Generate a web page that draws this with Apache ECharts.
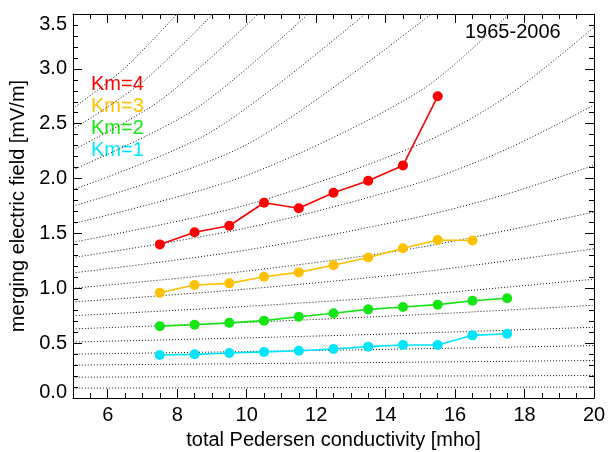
<!DOCTYPE html>
<html>
<head>
<meta charset="utf-8">
<script src="https://cdn.jsdelivr.net/npm/echarts@6/dist/echarts.min.js"></script>
<style>
  html, body { margin: 0; padding: 0; background: #fff; }
  #chart { width: 608px; height: 452px; }
</style>
</head>
<body>
<div id="chart"></div>
<script>
// conductivity bins
var sigma = [7.5, 8.5, 9.5, 10.5, 11.5, 12.5, 13.5, 14.5, 15.5, 16.5, 17.5];

// merging electric field per Km level
var km4 = [1.40, 1.51, 1.57, 1.78, 1.73, 1.87, 1.98, 2.12, 2.75];
var km3 = [0.96, 1.03, 1.045, 1.105, 1.145, 1.21, 1.28, 1.365, 1.44, 1.435];
var km2 = [0.655, 0.668, 0.685, 0.705, 0.74, 0.772, 0.808, 0.83, 0.851, 0.887, 0.909];
var km1 = [0.392, 0.398, 0.41, 0.42, 0.43, 0.447, 0.468, 0.483, 0.483, 0.571, 0.586];

var kmNames = ['Km=4', 'Km=3', 'Km=2', 'Km=1'];
var kmColors = ['#ff0000', '#ffc000', '#14e614', '#00e5ff'];

var xTicks = [6, 8, 10, 12, 14, 16, 18, 20];

// dotted background curves as [sigma, E]
var guideCurves = [
    [[5, 0.09], [10, 0.093], [15, 0.097], [20, 0.10]],
    [[5, 0.19], [10, 0.195], [15, 0.20], [20, 0.205]],
    [[5, 0.30], [10, 0.313], [15, 0.327], [20, 0.342]],
    [[5, 0.40], [10, 0.423], [15, 0.449], [20, 0.478]],
    [[5, 0.51], [10, 0.548], [15, 0.592], [20, 0.645]],
    [[5, 0.63], [10, 0.689], [15, 0.76], [20, 0.845]],
    [[5, 0.75], [10, 0.835], [15, 0.942], [20, 1.083]],
    [[5, 0.875], [10, 0.993], [15, 1.148], [20, 1.36]],
    [[5, 1.00], [10, 1.157], [15, 1.374], [20, 1.695]],
    [[5, 1.14], [10, 1.349], [15, 1.653], [17.5, 1.86], [20, 2.12]],
    [[5, 1.28], [10, 1.55], [15, 1.965], [17.5, 2.27], [20, 2.67]],
    [[5, 1.42], [10, 1.76], [15, 2.315], [17.5, 2.75], [20, 3.38]],
    [[5, 1.59], [10, 2.03], [15, 2.80], [17.55, 3.5]],
    [[5, 1.75], [10, 2.31], [15.31, 3.5]],
    [[5, 1.90], [9, 2.43], [13.41, 3.5]],
    [[5, 2.08], [8.5, 2.63], [11.77, 3.5]],
    [[5, 2.26], [7.5, 2.71], [10.33, 3.5]],
    [[5, 2.45], [7, 2.88], [9.03, 3.5]],
    [[5, 2.64], [6.5, 3.01], [7.99, 3.5]]
];

var FONT = 'Liberation Sans, Arial, sans-serif';

function pairs(ys) {
    return ys.map(function (y, i) { return [sigma[i], y]; });
}

var chart = echarts.init(document.getElementById('chart'), null, {renderer: 'canvas'});

var series = [];

guideCurves.forEach(function (pts) {
    series.push({
        type: 'line',
        data: pts,
        smooth: 0.3,
        symbol: 'none',
        silent: true,
        z: 1,
        lineStyle: {color: '#111', width: 1, type: [1, 2]}
    });
});

[km4, km3, km2, km1].forEach(function (vals, i) {
    series.push({
        name: kmNames[i],
        type: 'line',
        data: pairs(vals),
        symbol: 'circle',
        symbolSize: 10,
        z: 3,
        itemStyle: {color: kmColors[i]},
        lineStyle: {color: kmColors[i], width: 1.6}
    });
});

var axisLine = {show: true, lineStyle: {color: '#000', width: 1}};

var option = {
    animation: false,
    backgroundColor: '#fff',
    grid: {left: 73, right: 14, top: 14, bottom: 54, containLabel: false, outerBoundsMode: 'none'},
    xAxis: [
        {
            type: 'value', position: 'bottom', min: 5, max: 20,
            axisLine: axisLine,
            axisTick: {show: true, inside: true, length: 9, customValues: xTicks, lineStyle: {color: '#000'}},
            axisLabel: {show: true, customValues: xTicks, margin: 7, color: '#000', fontSize: 20, fontFamily: FONT},
            splitLine: {show: false},
            name: 'total Pedersen conductivity [mho]',
            nameLocation: 'middle', nameGap: 32,
            nameTextStyle: {color: '#000', fontSize: 20, fontFamily: FONT}
        },
        {
            type: 'value', position: 'bottom', min: 5, max: 20, interval: 0.5,
            axisLine: {show: false},
            axisTick: {show: true, inside: true, length: 5, lineStyle: {color: '#000'}},
            axisLabel: {show: false},
            splitLine: {show: false}
        },
        {
            type: 'value', position: 'top', min: 5, max: 20,
            axisLine: axisLine,
            axisTick: {show: true, inside: true, length: 9, customValues: xTicks, lineStyle: {color: '#000'}},
            axisLabel: {show: false, customValues: xTicks},
            splitLine: {show: false}
        },
        {
            type: 'value', position: 'top', min: 5, max: 20, interval: 0.5,
            axisLine: {show: false},
            axisTick: {show: true, inside: true, length: 5, lineStyle: {color: '#000'}},
            axisLabel: {show: false},
            splitLine: {show: false}
        }
    ],
    yAxis: [
        {
            type: 'value', position: 'left', min: 0, max: 3.5, interval: 0.5,
            axisLine: axisLine,
            axisTick: {show: true, inside: true, length: 9, lineStyle: {color: '#000'}},
            minorTick: {show: true, splitNumber: 5, length: 5, lineStyle: {color: '#000'}},
            axisLabel: {
                show: true, margin: 6, color: '#000', fontSize: 20, fontFamily: FONT,
                formatter: function (v) {
                    return v === 0 ? '{lo|0.0}' : v.toFixed(1);
                },
                rich: {
                    lo: {color: '#000', fontSize: 20, fontFamily: FONT, padding: [0, 0, 12, 0]}
                },
                verticalAlignMaxLabel: 'top'
            },
            splitLine: {show: false},
            name: 'merging electric field [mV/m]',
            nameLocation: 'middle', nameGap: 45,
            nameTextStyle: {color: '#000', fontSize: 20, fontFamily: FONT}
        },
        {
            type: 'value', position: 'right', min: 0, max: 3.5, interval: 0.5,
            axisLine: axisLine,
            axisTick: {show: true, inside: true, length: 9, lineStyle: {color: '#000'}},
            minorTick: {show: true, splitNumber: 5, length: 5, lineStyle: {color: '#000'}},
            axisLabel: {show: false},
            splitLine: {show: false}
        }
    ],
    graphic: [
        {type: 'text', left: 465, top: 22, style: {text: '1965-2006', fill: '#000', font: '20px ' + FONT}}
    ].concat(kmNames.map(function (n, i) {
        return {type: 'text', left: 91, top: 74 + i * 22, style: {text: n, fill: kmColors[i], font: '20px ' + FONT}};
    })),
    series: series
};

chart.setOption(option);
</script>
</body>
</html>
